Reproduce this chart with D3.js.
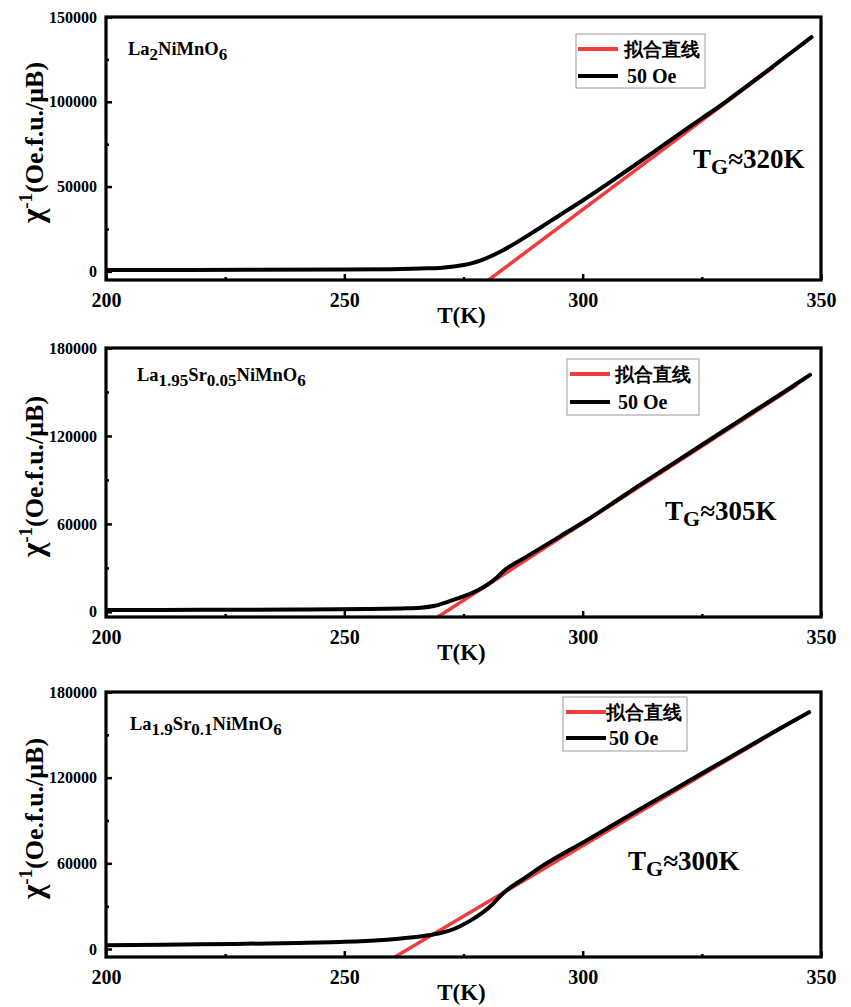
<!DOCTYPE html>
<html><head><meta charset="utf-8">
<script src="https://cdn.jsdelivr.net/npm/d3@7"></script>
<style>
html,body{margin:0;padding:0;background:#fff;}
svg{display:block;}
text{font-family:"Liberation Serif","Times New Roman",serif;font-weight:bold;fill:#000;}
</style></head>
<body>
<svg id="chart" width="851" height="1007"></svg>
<script>
// ---- data ----
const xTicksMajor = [200, 250, 300, 350];
const xTicksMinor = [225, 275, 325];
const yTicksA = [0, 50000, 100000, 150000];
const yMinorA = [25000, 75000, 125000];
const yTicksB = [0, 60000, 120000, 180000];
const yMinorB = [30000, 90000, 150000];

// Panel 1: La2NiMnO6
const tempA = [200, 230, 250, 260, 266, 270, 273, 275, 277, 278.5, 280, 283, 286, 290, 295, 300, 305, 310, 315, 320, 325, 330, 335, 340, 345, 348];
const chiA  = [800, 900, 1050, 1300, 1700, 2000, 2800, 3700, 5000, 6300, 8000, 12000, 16800, 23800, 32800, 41800, 51200, 60800, 70600, 80500, 90200, 100000, 110400, 121000, 131700, 138100];
const fitTA = [280.3, 340];
const fitA  = [-5000, 120400];

// Panel 2: La1.95Sr0.05NiMnO6
const tempB = [200, 220, 240, 255, 262, 266, 269, 272, 275, 278, 280, 282, 284, 286, 289, 295, 301, 306, 312, 318, 324, 330, 336, 342, 347.7];
const chiB  = [1300, 1400, 1600, 1900, 2300, 2800, 4200, 7200, 10500, 14800, 18500, 23500, 29500, 33500, 39200, 51000, 62800, 73500, 86600, 99200, 111800, 124400, 137000, 149500, 161700];
const fitTB = [269.6, 345];
const fitB  = [-3500, 155000];

// Panel 3: La1.9Sr0.1NiMnO6
const tempC = [200, 220, 240, 250, 258, 263, 267, 270, 273, 276, 279, 281, 283, 285, 287.5, 291, 296, 300, 305, 310, 320, 330, 340, 347.5];
const chiC  = [2700, 3300, 4200, 5000, 6300, 7800, 9300, 11000, 14000, 19000, 25500, 31000, 38000, 43500, 49000, 57000, 67000, 74500, 84200, 94000, 113300, 132600, 151800, 165900];
const fitTC = [260.6, 345];
const fitC  = [-5600, 161300];

const legendLabels = ["拟合直线", "50 Oe"];
const tgLabels = ["≈320K", "≈305K", "≈300K"];

// ---- layout ----
const svg = d3.select("#chart");
const X0 = 106, X1 = 821;
const panels = [
  {top: 17, bottom: 280, yDom: [-5100, 150000], ticks: yTicksA, minor: yMinorA, T: tempA, V: chiA, fT: fitTA, fV: fitA,
   sample: [["La",0],["2",1],["NiMnO",0],["6",1]], sx: 128, sy: 55,
   leg: {x: 576, y: 34, w: 129, h: 54, lx0: 578, lx1: 618, tx: 624, r1: 49, r2: 76},
   tg: {x: 693, y: 168, t: tgLabels[0]}},
  {top: 348, bottom: 617, yDom: [-3500, 180000], ticks: yTicksB, minor: yMinorB, T: tempB, V: chiB, fT: fitTB, fV: fitB,
   sample: [["La",0],["1.95",1],["Sr",0],["0.05",1],["NiMnO",0],["6",1]], sx: 137, sy: 381,
   leg: {x: 567, y: 359, w: 132, h: 56, lx0: 570, lx1: 610, tx: 615, r1: 374, r2: 402},
   tg: {x: 665, y: 520, t: tgLabels[1]}},
  {top: 692, bottom: 957, yDom: [-5600, 180000], ticks: yTicksB, minor: yMinorB, T: tempC, V: chiC, fT: fitTC, fV: fitC,
   sample: [["La",0],["1.9",1],["Sr",0],["0.1",1],["NiMnO",0],["6",1]], sx: 130, sy: 730,
   leg: {x: 563, y: 697, w: 124, h: 54, lx0: 566, lx1: 606, tx: 606, r1: 712, r2: 738},
   tg: {x: 628, y: 870, t: tgLabels[2]}}
];

const x = d3.scaleLinear().domain([200, 350]).range([X0, X1]);

panels.forEach(p => {
  const g = svg.append("g");
  const y = d3.scaleLinear().domain(p.yDom).range([p.bottom, p.top]);

  const cid = "clip" + p.top;
  svg.append("clipPath").attr("id", cid).append("rect")
    .attr("x", X0).attr("y", p.top).attr("width", X1 - X0).attr("height", p.bottom - p.top);

  // x axis
  const xa = g.append("g").attr("transform", `translate(0,${p.bottom})`)
    .call(d3.axisBottom(x).tickValues(xTicksMajor).tickSize(-6).tickPadding(13).tickFormat(d3.format("d")));
  xa.select(".domain").remove();
  xa.selectAll("line").attr("stroke", "#000").attr("stroke-width", 2.5);
  xa.selectAll("text").attr("font-size", 20).attr("font-family", "Liberation Serif").attr("font-weight", "bold").attr("fill", "#000");
  const xm = g.append("g").attr("transform", `translate(0,${p.bottom})`)
    .call(d3.axisBottom(x).tickValues(xTicksMinor).tickSize(-3).tickFormat(""));
  xm.select(".domain").remove();
  xm.selectAll("line").attr("stroke", "#000").attr("stroke-width", 2.5);

  // y axis
  const ya = g.append("g").attr("transform", `translate(${X0},0)`)
    .call(d3.axisLeft(y).tickValues(p.ticks).tickSize(-6).tickPadding(9).tickFormat(d3.format("d")));
  ya.select(".domain").remove();
  ya.selectAll("line").attr("stroke", "#000").attr("stroke-width", 2.5);
  ya.selectAll("text").attr("font-size", 16).attr("font-family", "Liberation Serif").attr("font-weight", "bold").attr("fill", "#000");
  const ym = g.append("g").attr("transform", `translate(${X0},0)`)
    .call(d3.axisLeft(y).tickValues(p.minor).tickSize(-3).tickFormat(""));
  ym.select(".domain").remove();
  ym.selectAll("line").attr("stroke", "#000").attr("stroke-width", 2.5);

  // fit line (red)
  const fitData = p.fT.map((t, i) => [t, p.fV[i]]);
  g.append("path").datum(fitData)
    .attr("clip-path", `url(#${cid})`)
    .attr("d", d3.line().x(d => x(d[0])).y(d => y(d[1])))
    .attr("fill", "none").attr("stroke", "#f03c3c").attr("stroke-width", 3.5);

  // data curve (black)
  const data = p.T.map((t, i) => [t, p.V[i]]);
  g.append("path").datum(data)
    .attr("clip-path", `url(#${cid})`)
    .attr("d", d3.line().curve(d3.curveCatmullRom.alpha(0.5)).x(d => x(d[0])).y(d => y(d[1])))
    .attr("fill", "none").attr("stroke", "#000").attr("stroke-width", 4)
    .attr("stroke-linejoin", "round").attr("stroke-linecap", "round");

  // frame
  g.append("rect").attr("x", X0).attr("y", p.top).attr("width", X1 - X0).attr("height", p.bottom - p.top)
    .attr("fill", "none").attr("stroke", "#000").attr("stroke-width", 3.2);

  // x title
  g.append("text").attr("x", (X0 + X1) / 2 - 2).attr("y", p.bottom + 43)
    .attr("text-anchor", "middle").attr("font-size", 23).text("T(K)");

  // y title
  const cy = (p.top + p.bottom) / 2 - 6;
  const yt = g.append("text").attr("transform", `translate(43,${cy}) rotate(-90)`)
    .attr("text-anchor", "middle").attr("font-size", 26);
  yt.append("tspan").attr("font-size", 31).text("χ");
  yt.append("tspan").attr("font-size", 19).attr("dy", -11).text("-1");
  yt.append("tspan").attr("dy", 11).text("(Oe.f.u./μB)");

  // sample label
  const st = g.append("text").attr("x", p.sx).attr("y", p.sy).attr("font-size", 18.5);
  p.sample.forEach(([s, sub], i) => {
    const prev = i > 0 ? p.sample[i - 1][1] : 0;
    const dy = (sub - prev) * 5;
    st.append("tspan").attr("dy", dy).attr("font-size", sub ? 17 : 18.5).text(s);
  });

  // legend
  const L = p.leg;
  g.append("rect").attr("x", L.x).attr("y", L.y).attr("width", L.w).attr("height", L.h)
    .attr("fill", "#fff").attr("stroke", "#9a9a9a").attr("stroke-width", 1);
  g.append("line").attr("x1", L.lx0).attr("x2", L.lx1).attr("y1", L.r1).attr("y2", L.r1)
    .attr("stroke", "#f03c3c").attr("stroke-width", 4);
  g.append("line").attr("x1", L.lx0).attr("x2", L.lx1).attr("y1", L.r2).attr("y2", L.r2)
    .attr("stroke", "#000").attr("stroke-width", 4);
  g.append("text").attr("x", L.tx).attr("y", L.r1).attr("dy", "0.35em")
    .attr("font-family", "Noto Sans CJK SC").attr("font-weight", 500).attr("font-size", 19).text(legendLabels[0]);
  g.append("text").attr("x", L.tx + 3).attr("y", L.r2).attr("dy", "0.35em")
    .attr("font-size", 20).text(legendLabels[1]);

  // T_G annotation
  const tg = g.append("text").attr("x", p.tg.x).attr("y", p.tg.y).attr("font-size", 27);
  tg.append("tspan").text("T");
  tg.append("tspan").attr("dy", 6).attr("font-size", 22).text("G");
  tg.append("tspan").attr("dy", -6).text(p.tg.t);
});
</script>
</body></html>
